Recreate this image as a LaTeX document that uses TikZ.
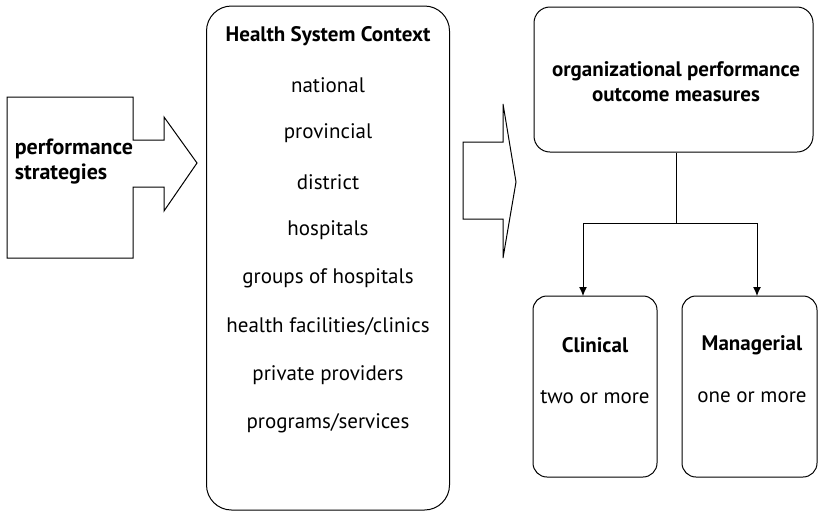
\documentclass[tikz,border=0pt]{standalone}
\usepackage{fontspec}
\setmainfont{PT Sans}
\usetikzlibrary{calc,positioning,arrows.meta}

\begin{document}
\begin{tikzpicture}[x=1pt,y=-1pt,line width=1pt,
  roundbox/.style={draw, rounded corners=#1, inner sep=0pt},
  head/.style={font=\fontsize{21}{25}\selectfont\bfseries, align=center},
  item/.style={font=\fontsize{21}{25}\selectfont}]
\useasboundingbox (0,0) rectangle (818,512);
% left block arrow
\draw (7,97) -- (133,97) -- (133,140) -- (164,140) -- (164,117) -- (197,163)
  -- (164,211) -- (164,187) -- (133,187) -- (133,258) -- (7,258) -- cycle;
\node[head, align=left, anchor=west, font=\fontsize{22}{25}\selectfont\bfseries] (strat) at (11,162) {performance\\strategies};
% context box
\node[roundbox=25pt, minimum width=243pt, minimum height=504pt] (ctx) at (328,258) {};
\node[head] (ctxtitle) at (328,36) {Health System Context};
\foreach \t [count=\i] in {national, provincial, district, hospitals,
  groups of hospitals, health facilities/clinics, private providers, programs/services}
  \node[item] (lvl\i) at (328,{37+\i*48.3}) {\t};
% middle block arrow
\draw (463,142) -- (503,142) -- (503,104) -- (516,182) -- (503,258) -- (503,219)
  -- (463,219) -- cycle;
% outcome boxes
\node[roundbox=16pt, minimum width=279pt, minimum height=145pt] (outcome) at (673.5,79.5) {};
\node[head] (outtitle) at (676,82) {organizational performance\\outcome measures};
\node[roundbox=14pt, minimum width=124pt, minimum height=181pt] (clin) at (595,386.5) {};
\node[roundbox=14pt, minimum width=135pt, minimum height=181pt] (man) at (749.5,386.5) {};
\node[head] (clintitle) at (595,345) {Clinical};
\node[item] (clintext) at (595,397) {two or more};
\node[head] (mantitle) at (752,345) {Managerial};
\node[item] (mantext) at (752,397) {one or more};
% connectors
\coordinate (split) at (676,223);
\coordinate (clinin) at (583,296);
\coordinate (manin) at (757,296);
\draw (outcome.south -| split) -- (split);
\draw[-{Latex[length=9pt,width=8pt]}] (split) -| (clinin);
\draw[-{Latex[length=9pt,width=8pt]}] (split) -| (manin);
\end{tikzpicture}
\end{document}
